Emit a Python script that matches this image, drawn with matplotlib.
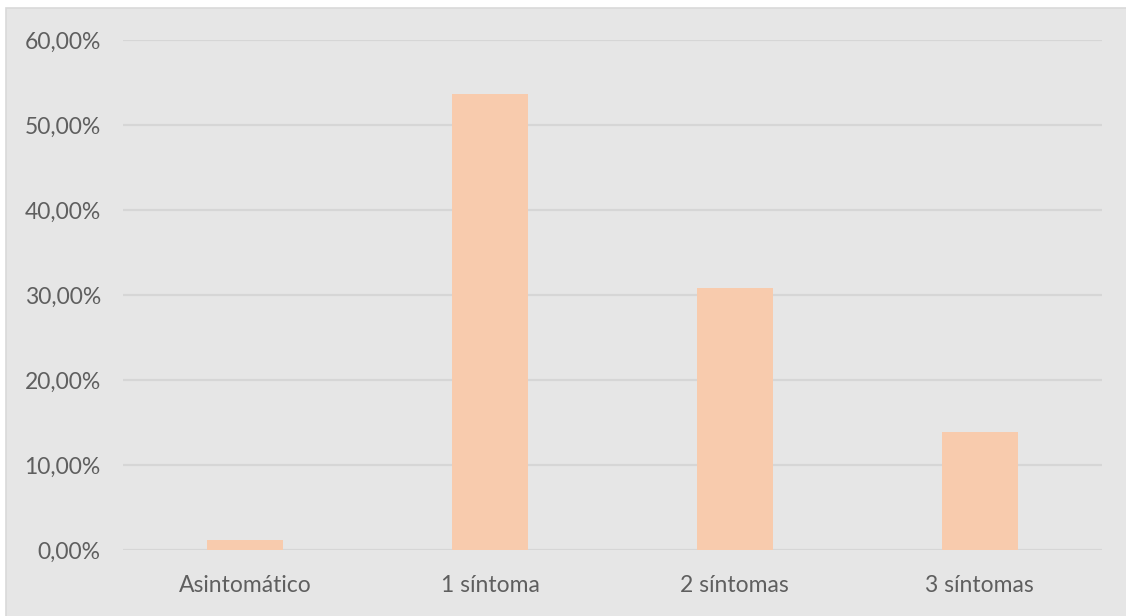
import matplotlib
matplotlib.use("Agg")
import matplotlib.pyplot as plt
from matplotlib.patches import Rectangle
from matplotlib.ticker import FuncFormatter

categories = ["Asintomático", "1 síntoma", "2 síntomas", "3 síntomas"]
values = [0.0118, 0.5360, 0.3086, 0.1392]
yticks = [0.0, 0.1, 0.2, 0.3, 0.4, 0.5, 0.6]

W, H = 1126, 616
fig = plt.figure(figsize=(W / 100, H / 100), dpi=100, facecolor="white")
bg = Rectangle((6 / W, -0.05), 1.1, 1.05 - 8 / H, transform=fig.transFigure,
               facecolor="#E6E6E6", edgecolor="#D9D9D9", linewidth=1.2, zorder=-10)
fig.patches.append(bg)

ax = fig.add_axes([123 / W, 1 - 550 / H, (1102 - 123) / W, (550 - 40) / H])
ax.set_zorder(5)
ax.set_facecolor("none")
x = range(len(categories))
ax.bar(x, values, width=0.31, color="#F8CBAD", zorder=3)
ax.set_xlim(-0.5, len(categories) - 0.5)
ax.set_ylim(0, 0.6)
ax.set_yticks(yticks)
ax.yaxis.set_major_formatter(FuncFormatter(lambda v, p: f"{v*100:.2f}%".replace(".", ",")))
ax.set_xticks(list(x))
ax.set_xticklabels(categories)
ax.grid(axis="y", color="#D6D6D6", linewidth=1.6, zorder=0)
ax.set_axisbelow(True)
for s in ax.spines.values():
    s.set_visible(False)
ax.tick_params(axis="both", length=0, colors="#595959", labelsize=16.5)
ax.tick_params(axis="y", pad=16)
ax.tick_params(axis="x", pad=18)
for t in ax.get_xticklabels() + ax.get_yticklabels():
    t.set_fontfamily("Lato")
    t.set_color("#5f5f5f")

fig.savefig("out.png", dpi=100, facecolor="white")
